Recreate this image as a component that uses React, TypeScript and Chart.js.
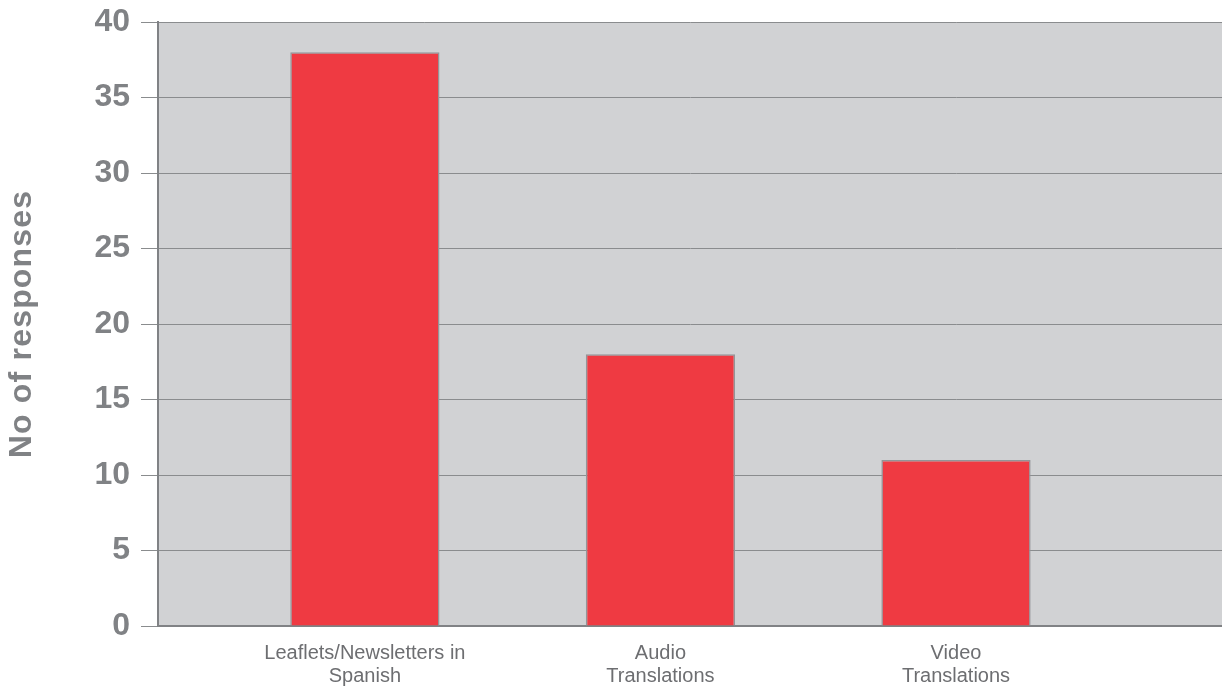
import React, { useEffect, useRef } from "react";
import { Chart, registerables } from "chart.js";

Chart.register(...registerables);

const categories: string[][] = [
  ["Leaflets/Newsletters in", "Spanish"],
  ["Audio", "Translations"],
  ["Video", "Translations"],
];
const positions: number[] = [1, 2, 3];
const responses: number[] = [38, 18, 11];
const yTitle = "No of responses";
const yMin = 0;
const yMax = 40;
const yStep = 5;

const plotBg = {
  id: "plotBg",
  beforeDraw(chart: any) {
    const { ctx, chartArea } = chart;
    ctx.save();
    ctx.fillStyle = "#d1d2d4";
    ctx.fillRect(chartArea.left, chartArea.top, chartArea.right - chartArea.left, chartArea.bottom - chartArea.top);
    ctx.restore();
  },
};

const yTitlePlugin = {
  id: "yTitleSpaced",
  afterDraw(chart: any) {
    const { ctx, chartArea } = chart;
    ctx.save();
    ctx.translate(22, (chartArea.top + chartArea.bottom) / 2);
    ctx.rotate(-Math.PI / 2);
    ctx.font = "bold 32px 'Liberation Sans', Arial, sans-serif";
    try {
      (ctx as any).letterSpacing = "1.2px";
    } catch (e) {}
    ctx.fillStyle = "#808285";
    ctx.textAlign = "center";
    ctx.textBaseline = "middle";
    ctx.fillText(yTitle, 0, 0);
    ctx.restore();
  },
};

export default function App() {
  const canvasRef = useRef<HTMLCanvasElement | null>(null);

  useEffect(() => {
    if (!canvasRef.current) return;
    const chart = new Chart(canvasRef.current, {
      type: "bar",
      data: {
        datasets: [
          {
            data: positions.map((x, i) => ({ x, y: responses[i] })),
            backgroundColor: "#ef3a42",
            borderColor: "#939598",
            borderWidth: 1.5,
            categoryPercentage: 1,
            barPercentage: 0.505,
          },
        ],
      },
      plugins: [plotBg, yTitlePlugin],
      options: {
        animation: false,
        responsive: false,
        events: [],
        layout: { padding: { top: 22, right: 0, bottom: 0, left: 0 } },
        plugins: {
          legend: { display: false },
          tooltip: { enabled: false },
          title: { display: false },
        },
        scales: {
          x: {
            type: "linear",
            min: 0.3,
            max: 3.9,
            offset: false,
            grid: { display: false, offset: false },
            border: { display: true, color: "#808285", width: 2 },
            afterBuildTicks: (scale: any) => {
              scale.ticks = positions.map((v) => ({ value: v }));
            },
            afterFit: (scale: any) => {
              scale.height = 62;
              scale.paddingLeft = 0;
              scale.paddingRight = 0;
            },
            ticks: {
              padding: 8,
              color: "#6d6e71",
              autoSkip: false,
              maxRotation: 0,
              font: { family: "'Liberation Sans', Arial, sans-serif", size: 20, lineHeight: 1.15 },
              callback: (value: any) => {
                const idx = positions.indexOf(Number(value));
                return idx >= 0 ? categories[idx] : "";
              },
            },
          },
          y: {
            type: "linear",
            min: yMin,
            max: yMax,
            grid: {
              color: "#8a8c8e",
              lineWidth: 1,
              drawTicks: true,
              tickLength: 17,
              tickColor: "#8a8c8e",
            },
            border: { display: true, color: "#808285", width: 2 },
            afterFit: (scale: any) => {
              scale.width = 158;
              scale.paddingTop = 0;
              scale.paddingBottom = 0;
            },
            ticks: {
              stepSize: yStep,
              padding: 11,
              color: "#808285",
              font: { family: "'Liberation Sans', Arial, sans-serif", size: 32, weight: "bold" },
            },
          },
        },
      } as any,
    });
    return () => chart.destroy();
  }, []);

  return (
    <div style={{ position: "absolute", left: 0, top: 0, width: 1222, height: 688, background: "#ffffff" }}>
      <canvas ref={canvasRef} width={1222} height={688} style={{ display: "block" }} />
    </div>
  );
}
